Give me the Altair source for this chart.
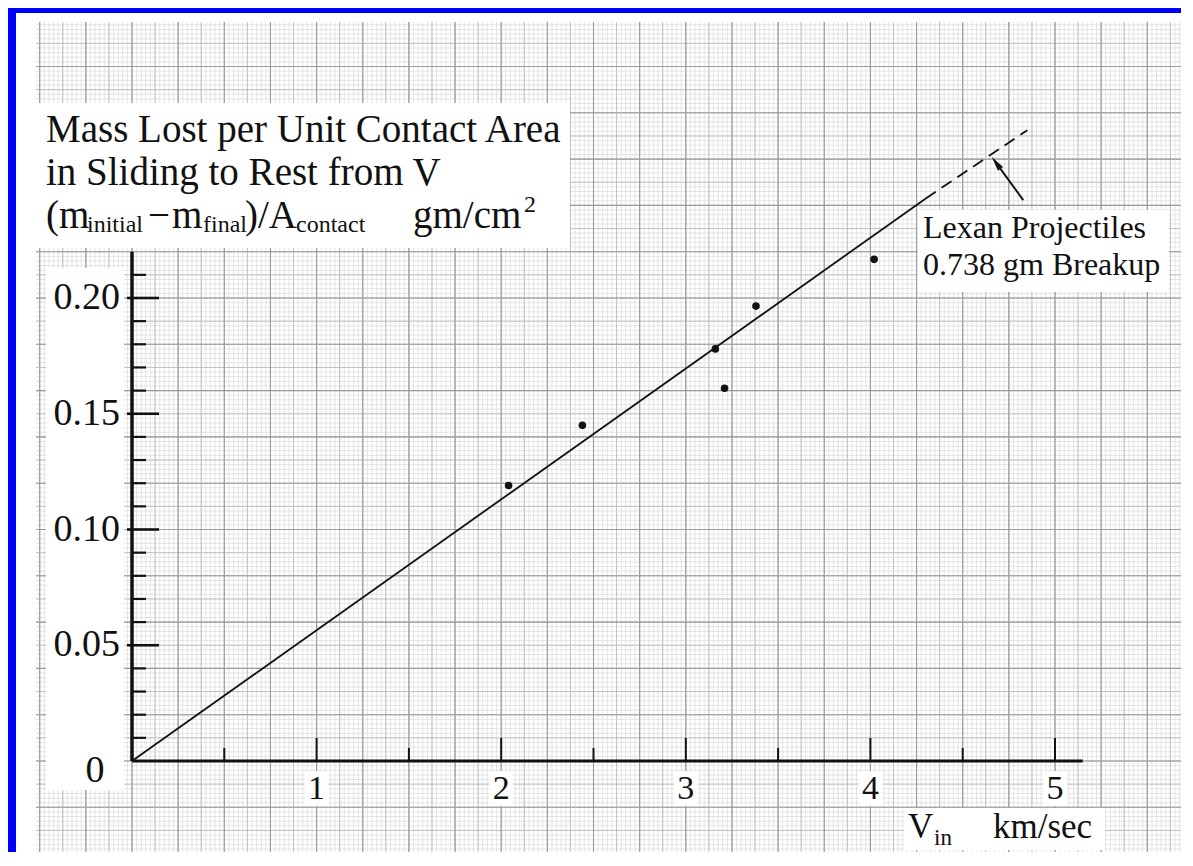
import altair as alt
import numpy as np
import pandas as pd

# ---------------- data ----------------
v_in = [2.04, 2.44, 3.16, 3.21, 3.38, 4.02]
mass_lost = [0.119, 0.145, 0.178, 0.161, 0.1965, 0.2167]

fit_solid_v = [0.0, 4.30]
fit_solid_m = [0.0, 0.243]
fit_dash_v = [4.30, 4.85]
fit_dash_m = [0.243, 0.2725]

x_major_ticks = [1, 2, 3, 4, 5]
x_tick_labels = ["1", "2", "3", "4", "5"]
x_minor_ticks = [0.5, 1.5, 2.5, 3.5, 4.5]
y_major_ticks = [0.05, 0.10, 0.15, 0.20]
y_tick_labels = ["0.05", "0.10", "0.15", "0.20"]
y_minor_ticks = [0.01, 0.02, 0.03, 0.04, 0.06, 0.07, 0.08, 0.09, 0.11, 0.12,
                 0.13, 0.14, 0.16, 0.17, 0.18, 0.19, 0.21]
x_axis_end = 5.15
y_axis_end = 0.22

arrow_tail = [4.828, 0.2423]
arrow_head = [4.657, 0.2610]

title_line1 = "Mass Lost per Unit Contact Area"
title_line2 = "in Sliding to Rest from V"
note_line1 = "Lexan Projectiles"
note_line2 = "0.738 gm Breakup"

# ---------------- geometry ----------------
FONT = "Liberation Serif"
INK = "#111111"
PX_X = 184.6      # pixels per km/s
PX_Y = 2315.0     # pixels per gm/cm^2
W, H = 1145, 830
OX, OY = 96, 739  # plot-area pixel position of the data origin
xmin = -OX / PX_X
xmax = xmin + W / PX_X
ymax = OY / PX_Y
ymin = ymax - H / PX_Y

xs = alt.Scale(domain=[xmin, xmax], nice=False, zero=False)
ys = alt.Scale(domain=[ymin, ymax], nice=False, zero=False)


def X(f):
    return alt.X(f, type="quantitative", scale=xs, axis=None)


def Y(f):
    return alt.Y(f, type="quantitative", scale=ys, axis=None)


dummy = alt.Data(values=[{"a": 0}])
layers = []

# ---------------- graph paper ----------------
def grid_vals(lo, hi, step):
    k0 = int(np.ceil(lo / step))
    k1 = int(np.floor(hi / step))
    return [round(k * step, 6) for k in range(k0, k1 + 1)]

for step_x, step_y, col, sw in [(0.025, 0.002, "#dadada", 0.7),
                                (0.125, 0.010, "#bdbdbd", 0.9),
                                (0.25, 0.020, "#9c9c9c", 1.1)]:
    gx = pd.DataFrame({"v": grid_vals(xmin, xmax, step_x)})
    gy = pd.DataFrame({"v": grid_vals(ymin, ymax, step_y)})
    layers.append(alt.Chart(gx).mark_rule(color=col, strokeWidth=sw).encode(x=X("v")))
    layers.append(alt.Chart(gy).mark_rule(color=col, strokeWidth=sw).encode(y=Y("v")))

# blue frame strips (screen edge)
layers.append(alt.Chart(dummy).mark_rect(color="#0000f6").encode(
    x=alt.value(-28), x2=alt.value(-20), y=alt.value(-14), y2=alt.value(H)))
layers.append(alt.Chart(dummy).mark_rect(color="#0000f6").encode(
    x=alt.value(-28), x2=alt.value(W), y=alt.value(-14), y2=alt.value(-9)))

# ---------------- white label boxes ----------------
def white_box(x0, y0, x1, y1):
    return alt.Chart(dummy).mark_rect(color="white").encode(
        x=alt.value(x0), x2=alt.value(x1), y=alt.value(y0), y2=alt.value(y1))

layers.append(white_box(0, 81, 534, 226))        # title block
layers.append(white_box(882, 188, 1133, 270))    # Lexan note
layers.append(white_box(10, 246, 88, 768))       # y tick label column
layers.append(white_box(868, 786, 1069, 828))    # x axis title

xbox = pd.DataFrame({"v": x_major_ticks})
xbox["a"] = xbox["v"] - 12 / PX_X
xbox["b"] = xbox["v"] + 12 / PX_X
layers.append(alt.Chart(xbox).mark_rect(color="white").encode(
    x=X("a"), x2="b", y=alt.value(749), y2=alt.value(784)))

# ---------------- axes ----------------
ax = pd.DataFrame({"x0": [0.0], "x1": [x_axis_end], "y0": [0.0], "y1": [y_axis_end]})
layers.append(alt.Chart(ax).mark_rule(color=INK, strokeWidth=3).encode(
    x=X("x0"), x2="x1", y=Y("y0")))
layers.append(alt.Chart(ax).mark_rule(color=INK, strokeWidth=3.5).encode(
    x=X("x0"), y=Y("y0"), y2="y1"))

ymin_t = pd.DataFrame({"v": y_minor_ticks})
ymin_t["a"] = 0.0
ymin_t["b"] = 14 / PX_X
layers.append(alt.Chart(ymin_t).mark_rule(color=INK, strokeWidth=2.2).encode(
    y=Y("v"), x=X("a"), x2="b"))
ymaj_t = pd.DataFrame({"v": y_major_ticks})
ymaj_t["a"] = -5 / PX_X
ymaj_t["b"] = 27 / PX_X
layers.append(alt.Chart(ymaj_t).mark_rule(color=INK, strokeWidth=2.6).encode(
    y=Y("v"), x=X("a"), x2="b"))

xmin_t = pd.DataFrame({"v": x_minor_ticks})
xmin_t["a"] = 0.0
xmin_t["b"] = 13 / PX_Y
layers.append(alt.Chart(xmin_t).mark_rule(color=INK, strokeWidth=2).encode(
    x=X("v"), y=Y("a"), y2="b"))
xmaj_t = pd.DataFrame({"v": x_major_ticks})
xmaj_t["a"] = 0.0
xmaj_t["b"] = 23 / PX_Y
layers.append(alt.Chart(xmaj_t).mark_rule(color=INK, strokeWidth=2).encode(
    x=X("v"), y=Y("a"), y2="b"))

# tick labels
xl = pd.DataFrame({"v": x_major_ticks, "t": x_tick_labels})
layers.append(alt.Chart(xl).mark_text(font=FONT, fontSize=34, color=INK, align="center",
                                      baseline="alphabetic").encode(
    x=X("v"), y=alt.value(777), text="t:N"))
yl = pd.DataFrame({"v": y_major_ticks, "t": y_tick_labels})
layers.append(alt.Chart(yl).mark_text(font=FONT, fontSize=38, color=INK, align="right",
                                      baseline="middle").encode(
    y=Y("v"), x=alt.value(84), text="t:N"))


def txt(s, x, y, size, align="left", baseline="alphabetic"):
    return alt.Chart(dummy).mark_text(font=FONT, fontSize=size, color=INK, align=align,
                                      baseline=baseline).encode(
        x=alt.value(x), y=alt.value(y), text=alt.value(s))

layers.append(txt("0", 59, 760, 38, align="center"))

# ---------------- fit line, points, arrow ----------------
solid = pd.DataFrame({"v": fit_solid_v, "m": fit_solid_m})
dash = pd.DataFrame({"v": fit_dash_v, "m": fit_dash_m})
layers.append(alt.Chart(solid).mark_line(color=INK, strokeWidth=1.8).encode(
    x=X("v"), y=Y("m")))
layers.append(alt.Chart(dash).mark_line(color=INK, strokeWidth=1.8,
                                        strokeDash=[12, 7]).encode(x=X("v"), y=Y("m")))

pts = pd.DataFrame({"v": v_in, "m": mass_lost})
layers.append(alt.Chart(pts).mark_circle(color=INK, size=58, opacity=1).encode(
    x=X("v"), y=Y("m")))

# arrow: shaft from tail to base of head, head as rotated custom symbol
dx_px = (arrow_head[0] - arrow_tail[0]) * PX_X
dy_px = -(arrow_head[1] - arrow_tail[1]) * PX_Y
L = float(np.hypot(dx_px, dy_px))
ux, uy = dx_px / L, dy_px / L
head_half = 7.5
cx = arrow_head[0] - ux * head_half / PX_X
cy = arrow_head[1] + uy * head_half / PX_Y
ang = float(np.degrees(np.arctan2(dx_px, -dy_px))) % 360
shaft = pd.DataFrame({"x0": [arrow_tail[0]], "y0": [arrow_tail[1]], "x1": [cx], "y1": [cy]})
layers.append(alt.Chart(shaft).mark_rule(color=INK, strokeWidth=2).encode(
    x=X("x0"), y=Y("y0"), x2="x1", y2="y1"))
headdf = pd.DataFrame({"x": [cx], "y": [cy]})
layers.append(alt.Chart(headdf).mark_point(shape="M0,-1L0.42,1L-0.42,1Z", filled=True,
                                           color=INK, opacity=1, size=225, angle=ang,
                                           strokeWidth=0).encode(x=X("x"), y=Y("y")))

# ---------------- texts ----------------
layers.append(txt(title_line1, 10, 120, 39))
layers.append(txt(title_line2, 10, 163, 39))
# third title line with subscripts / superscript
layers.append(txt("(m", 10, 206, 39))
layers.append(txt("initial", 51, 210, 24))
layers.append(txt("\u2212", 112, 206, 39))
layers.append(txt("m", 136, 206, 39))
layers.append(txt("final", 167, 210, 24))
layers.append(txt(")/A", 209, 206, 39))
layers.append(txt("contact", 260, 210, 24))
layers.append(txt("gm/cm", 377, 206, 39))
layers.append(txt("2", 488, 190, 24))

layers.append(txt(note_line1, 887, 216, 32))
layers.append(txt(note_line2, 887, 253, 32))

layers.append(txt("V", 872, 816, 35))
layers.append(txt("in", 898, 823, 23))
layers.append(txt("km/sec", 957, 816, 35))

chart = alt.layer(*layers).properties(
    width=W, height=H,
    padding={"left": 28, "top": 14, "right": 0, "bottom": 0},
    autosize=alt.AutoSizeParams(type="none"),
    background="white",
).configure_view(stroke="transparent")

chart.save("out.html", embed_options={"renderer": "svg", "actions": False})
